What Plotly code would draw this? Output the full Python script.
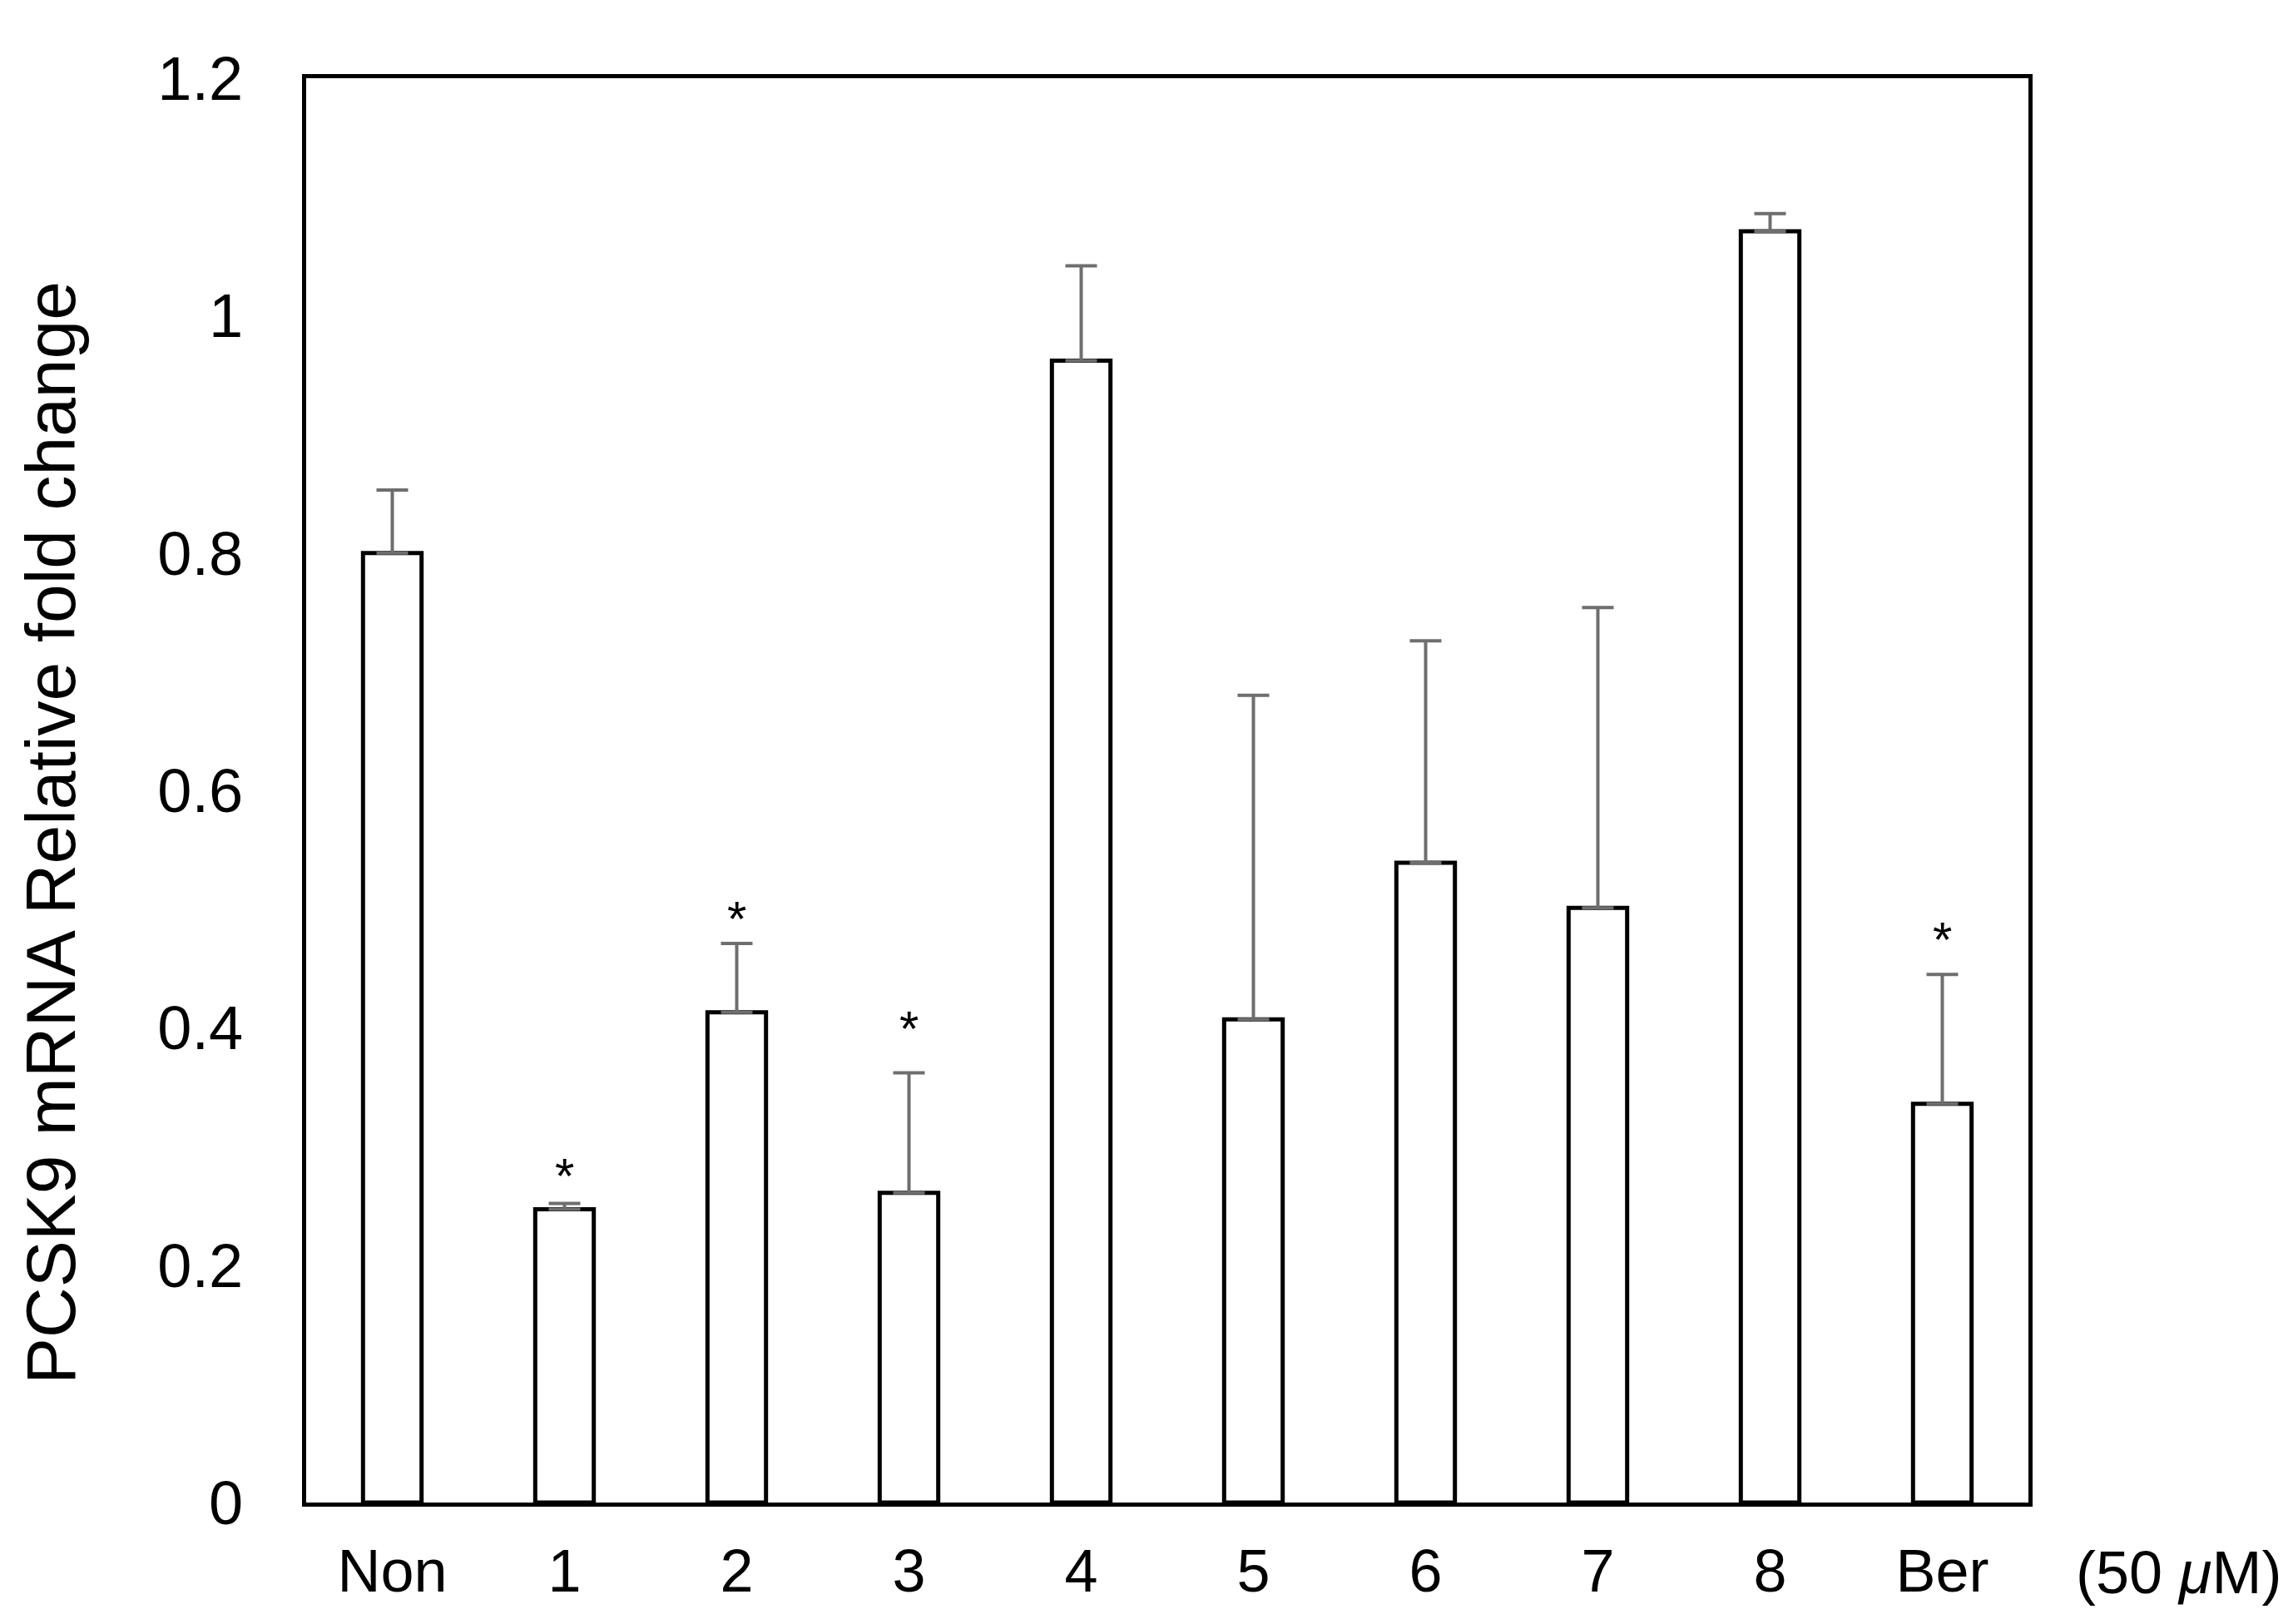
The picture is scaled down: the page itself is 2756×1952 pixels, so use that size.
import plotly.graph_objects as go

categories = ["Non", "1", "2", "3", "4", "5", "6", "7", "8", "Ber"]
values = [0.800, 0.247, 0.413, 0.261, 0.962, 0.407, 0.539, 0.501, 1.071, 0.336]
errors = [0.053, 0.005, 0.058, 0.101, 0.080, 0.273, 0.187, 0.253, 0.015, 0.109]
star_categories = ["1", "2", "3", "Ber"]
star_y = [0.275, 0.492, 0.399, 0.474]
y_ticks = [0, 0.2, 0.4, 0.6, 0.8, 1.0, 1.2]
y_ticktext = ["0", "0.2", "0.4", "0.6", "0.8", "1", "1.2"]
y_title = "PCSK9 mRNA Relative fold change"
unit_label = "(50 <i>μ</i>M)"

FONT = "Liberation Sans, Arial, sans-serif"

fig = go.Figure()
fig.add_trace(go.Bar(
    x=categories,
    y=values,
    width=0.34,
    marker=dict(color="white", line=dict(color="black", width=5)),
    error_y=dict(type="data", array=errors, arrayminus=[0] * len(errors),
                 symmetric=False, color="#6e6e6e", thickness=4, width=19),
    showlegend=False,
))

for c, y in zip(star_categories, star_y):
    fig.add_annotation(x=c, y=y, text="*", showarrow=False,
                       font=dict(family=FONT, size=60, color="black"),
                       xanchor="center", yanchor="middle")

fig.add_annotation(xref="paper", yref="paper", x=-0.148, y=0.47,
                   text=y_title, textangle=-90, showarrow=False,
                   font=dict(family=FONT, size=84, color="black"),
                   xanchor="center", yanchor="middle")

fig.add_annotation(xref="paper", yref="paper", x=1.087, y=-0.049,
                   text=unit_label, showarrow=False,
                   font=dict(family=FONT, size=72, color="black"),
                   xanchor="center", yanchor="middle")

fig.update_layout(
    width=2756, height=1952,
    margin=dict(l=360, r=326, t=86, b=154, autoexpand=False),
    paper_bgcolor="white", plot_bgcolor="white",
    font=dict(family=FONT, size=72, color="black"),
)
fig.update_xaxes(
    showline=True, linecolor="black", linewidth=5, mirror=True,
    showgrid=False, ticks="", ticklabelstandoff=16,
    tickfont=dict(family=FONT, size=72, color="black"),
)
fig.update_yaxes(
    range=[0, 1.2], tickvals=y_ticks, ticktext=y_ticktext,
    showline=True, linecolor="black", linewidth=5, mirror=True,
    showgrid=False, zeroline=False, ticks="", ticklabelstandoff=56,
    tickfont=dict(family=FONT, size=74, color="black"),
)

fig.write_html("out.html")
